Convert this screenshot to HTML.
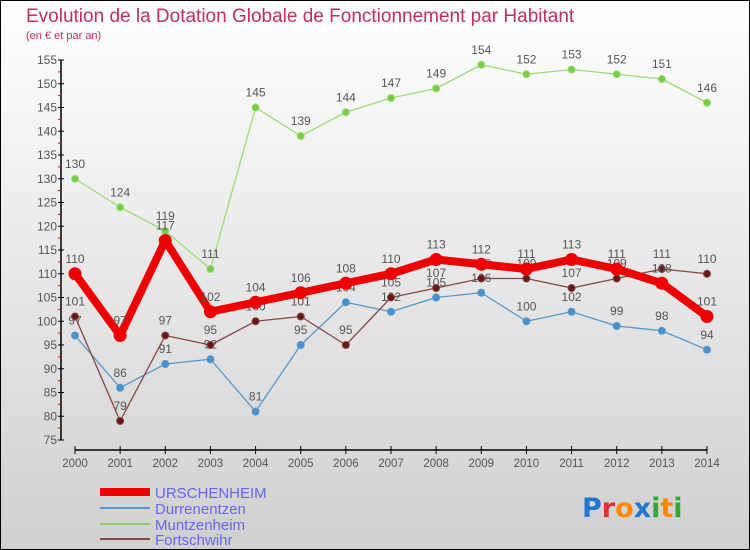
<!DOCTYPE html>
<html><head><meta charset="utf-8"><style>
body{margin:0}
svg{display:block;font-family:"Liberation Sans",sans-serif}
</style></head><body>
<svg id="c" width="750" height="550">
<defs><linearGradient id="bg" x1="0" y1="0" x2="0" y2="1"><stop offset="0" stop-color="#ffffff"/><stop offset="1" stop-color="#d0d0d0"/></linearGradient></defs>
<rect x="0.5" y="0.5" width="749" height="549" fill="url(#bg)" stroke="#000"/>
<text x="26" y="22" font-size="19" fill="#c0305a">Evolution de la Dotation Globale de Fonctionnement par Habitant</text>
<text x="26" y="39" font-size="11" fill="#c0305a">(en € et par an)</text>
<g id="axes"></g><g id="series"></g>
<g>
<line x1="100" y1="492" x2="150" y2="492" stroke="#e00" stroke-width="8"/>
<text x="155" y="498" font-size="15" fill="#6666ee">URSCHENHEIM</text>
<line x1="100" y1="508" x2="150" y2="508" stroke="#5599cc" stroke-width="2"/>
<text x="155" y="514" font-size="15" fill="#6666ee">Durrenentzen</text>
<line x1="100" y1="524" x2="150" y2="524" stroke="#88cc66" stroke-width="2"/>
<text x="155" y="530" font-size="15" fill="#6666ee">Muntzenheim</text>
<line x1="100" y1="539" x2="150" y2="539" stroke="#884444" stroke-width="2"/>
<text x="155" y="545" font-size="15" fill="#6666ee">Fortschwihr</text>
</g>
<g font-size="27" font-weight="bold" font-family="'DejaVu Sans',sans-serif">
<text x="582" y="517"><tspan fill="#2277cc">P</tspan><tspan fill="#dd3333">r</tspan><tspan fill="#ff8800">o</tspan><tspan fill="#2277cc">x</tspan><tspan fill="#33aa33">i</tspan><tspan fill="#ff8800">t</tspan><tspan fill="#33aa33">i</tspan></text>
</g>
</svg>
<script>
const years=[2000,2001,2002,2003,2004,2005,2006,2007,2008,2009,2010,2011,2012,2013,2014];
const urschenheim=[110,97,117,102,104,106,108,110,113,112,111,113,111,108,101];
const durrenentzen=[97,86,91,92,81,95,104,102,105,106,100,102,99,98,94];
const muntzenheim=[130,124,119,111,145,139,144,147,149,154,152,153,152,151,146];
const fortschwihr=[101,79,97,95,100,101,95,105,107,109,109,107,109,111,110];
const yTicks=[75,80,85,90,95,100,105,110,115,120,125,130,135,140,145,150,155];
const NS="http://www.w3.org/2000/svg";
const xs=i=>75+i*(707-75)/(years.length-1);
const ys=v=>60+(155-v)*4.75;
function mk(t,a,p){const e=document.createElementNS(NS,t);for(const k in a)e.setAttribute(k,a[k]);p.appendChild(e);return e;}
const ax=document.getElementById('axes');
let e=mk('line',{x1:61,y1:ys(155),x2:61,y2:ys(75),stroke:'#000','stroke-width':1.5},ax);


yTicks.forEach(v=>{
 mk('line',{x1:58,y1:ys(v),x2:64,y2:ys(v),stroke:'#000'},ax);
 if(v<155)mk('line',{x1:58,y1:ys(v+2.5),x2:61,y2:ys(v+2.5),stroke:'#e00'},ax);
 const t=mk('text',{x:57,y:ys(v)+4,'text-anchor':'end','font-size':12,fill:'#555'},ax);t.textContent=v;
 
 
});
e=mk('line',{x1:xs(0),y1:450,x2:xs(years.length-1),y2:450,stroke:'#000','stroke-width':1.5},ax);


years.forEach((y,i)=>{
 mk('line',{x1:xs(i),y1:446,x2:xs(i),y2:454,stroke:'#000'},ax);
 const t=mk('text',{x:xs(i),y:467,'text-anchor':'middle','font-size':11.5,fill:'#555'},ax);t.textContent=y;
 
 
});
const sg=document.getElementById('series');
function series(name,d,color,w,r,dot){
 const g=mk('g',{},sg);
 
 
 mk('polyline',{points:d.map((v,i)=>xs(i)+','+ys(v)).join(' '),fill:'none',stroke:color,'stroke-width':w,'stroke-linejoin':'round'},g);
 d.forEach((v,i)=>{
  const c=mk('circle',{cx:xs(i),cy:ys(v),r:r,fill:dot,stroke:color,'stroke-width':1},g);
  
  
  const t=mk('text',{x:xs(i),y:ys(v)-11,'text-anchor':'middle','font-size':12,fill:'#555'},g);t.textContent=v;
  
  
 });
}
series('durrenentzen',durrenentzen,'#5599cc',1.3,3.5,'#4a90cc');
series('muntzenheim',muntzenheim,'#99dd77',1.3,3.5,'#77cc44');
series('fortschwihr',fortschwihr,'#884444',1.3,3.5,'#661818');
series('urschenheim',urschenheim,'#ee0000',8,6,'#ee0000');
</script>
</body></html>
